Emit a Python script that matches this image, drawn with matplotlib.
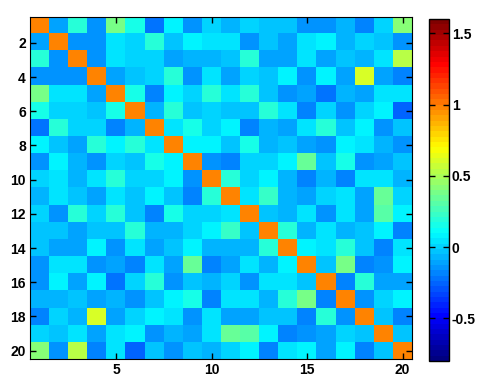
import numpy as np
import matplotlib
matplotlib.use('Agg')
import matplotlib.pyplot as plt
from matplotlib.colors import ListedColormap

# correlation matrix (row i, column j)
corr = np.array([
    [1.00, -0.10, 0.18, -0.15, 0.38, 0.15, -0.22, 0.10, -0.13, 0.00, -0.05, -0.01, -0.04, -0.02, -0.16, -0.16, -0.05, -0.18, 0.00, 0.42],
    [-0.10, 1.00, -0.13, -0.13, 0.06, 0.00, 0.18, -0.02, 0.10, 0.04, 0.04, -0.13, -0.02, -0.11, 0.05, 0.10, -0.05, 0.01, -0.03, -0.16],
    [0.18, -0.13, 1.00, -0.13, 0.06, 0.01, 0.01, -0.10, -0.08, -0.08, -0.02, 0.18, -0.09, -0.09, 0.05, -0.09, -0.02, -0.08, 0.04, 0.52],
    [-0.15, -0.13, -0.13, 1.00, -0.10, -0.02, 0.00, 0.18, -0.13, 0.04, -0.09, -0.01, -0.04, 0.10, -0.16, 0.07, -0.11, 0.62, -0.10, -0.18],
    [0.38, 0.06, 0.06, -0.10, 1.00, 0.15, -0.18, 0.10, 0.00, 0.19, 0.03, 0.19, -0.02, -0.15, -0.09, -0.22, -0.05, -0.10, 0.04, 0.04],
    [0.15, 0.00, 0.01, -0.02, 0.15, 1.00, -0.06, 0.19, -0.04, 0.00, -0.03, -0.02, 0.19, 0.03, -0.19, -0.01, -0.13, -0.01, 0.09, -0.24],
    [-0.22, 0.18, 0.01, 0.00, -0.18, -0.06, 1.00, 0.03, 0.14, 0.00, 0.08, -0.19, -0.06, -0.10, 0.04, 0.20, -0.04, 0.10, -0.13, -0.02],
    [0.10, -0.02, -0.10, 0.18, 0.10, 0.19, 0.03, 1.00, 0.08, 0.08, -0.03, 0.15, -0.06, -0.03, -0.09, -0.13, 0.10, 0.05, -0.06, -0.15],
    [-0.13, 0.10, -0.08, -0.13, 0.00, -0.04, 0.14, 0.08, 1.00, -0.13, -0.18, 0.00, 0.00, 0.10, 0.33, -0.04, 0.15, -0.14, -0.11, -0.02],
    [0.00, 0.04, -0.08, 0.04, 0.19, 0.00, 0.00, 0.08, -0.13, 1.00, 0.19, 0.00, 0.08, -0.05, -0.17, -0.06, -0.17, 0.04, 0.04, -0.05],
    [-0.05, 0.04, -0.02, -0.09, 0.03, -0.03, 0.08, -0.03, -0.18, 0.19, 1.00, 0.06, 0.24, -0.06, -0.11, 0.00, 0.04, -0.09, 0.35, -0.01],
    [-0.01, -0.13, 0.18, -0.01, 0.19, -0.02, -0.19, 0.15, 0.00, 0.00, 0.06, 1.00, -0.04, -0.08, 0.05, -0.15, 0.04, -0.10, 0.29, 0.08],
    [-0.04, -0.02, -0.09, -0.04, -0.02, 0.19, -0.06, -0.06, 0.00, 0.08, 0.24, -0.04, 1.00, 0.19, -0.06, 0.05, -0.05, -0.04, 0.10, -0.17],
    [-0.02, -0.11, -0.09, 0.10, -0.15, 0.03, -0.10, -0.03, 0.10, -0.05, -0.06, -0.08, 0.19, 1.00, 0.10, 0.03, 0.18, -0.04, -0.20, 0.03],
    [-0.16, 0.05, 0.05, -0.16, -0.09, -0.19, 0.04, -0.09, 0.33, -0.17, -0.11, 0.05, -0.06, 0.10, 1.00, -0.03, 0.38, -0.18, -0.13, 0.10],
    [-0.16, 0.10, -0.09, 0.07, -0.22, -0.01, 0.20, -0.13, -0.04, -0.06, 0.00, -0.15, 0.05, 0.03, -0.03, 1.00, -0.18, 0.18, -0.09, -0.09],
    [-0.05, -0.05, -0.02, -0.11, -0.05, -0.13, -0.04, 0.10, 0.15, -0.17, 0.04, 0.04, -0.05, 0.18, 0.38, -0.18, 1.00, -0.13, -0.01, 0.10],
    [-0.18, 0.01, -0.08, 0.62, -0.10, -0.01, 0.10, 0.05, -0.14, 0.04, -0.09, -0.10, -0.04, -0.04, -0.18, 0.18, -0.13, 1.00, -0.03, -0.19],
    [0.00, -0.03, 0.04, -0.10, 0.04, 0.09, -0.13, -0.06, -0.11, 0.04, 0.35, 0.29, 0.10, -0.20, -0.13, -0.09, -0.01, -0.03, 1.00, -0.03],
    [0.42, -0.16, 0.52, -0.18, 0.04, -0.24, -0.02, -0.15, -0.02, -0.05, -0.01, 0.08, -0.17, 0.03, 0.10, -0.09, 0.10, -0.19, -0.03, 1.00],
])

x_ticks = [5, 10, 15, 20]
y_ticks = [2, 4, 6, 8, 10, 12, 14, 16, 18, 20]
cbar_ticks = [-0.5, 0, 0.5, 1, 1.5]
cbar_labels = ['-0.5', '0', '0.5', '1', '1.5']
clim = (-0.8, 1.6)

# MATLAB style jet, 64 levels
s = np.linspace(0, 1, 64)
r = np.clip(np.minimum(4 * s - 1.5, -4 * s + 4.5), 0, 1)
g = np.clip(np.minimum(4 * s - 0.5, -4 * s + 3.5), 0, 1)
b = np.clip(np.minimum(4 * s + 0.5, -4 * s + 2.5), 0, 1)
jet64 = ListedColormap(np.column_stack([r, g, b]))

plt.rcParams['font.family'] = ['Liberation Sans', 'DejaVu Sans']
plt.rcParams['font.size'] = 10
plt.rcParams['font.weight'] = 'bold'

fig = plt.figure(figsize=(4.86, 3.9), dpi=100)
ax = fig.add_axes([0.062, 0.079, 0.786, 0.877])
cax = fig.add_axes([0.883, 0.074, 0.041, 0.877])

n = corr.shape[0]
im = ax.imshow(corr, cmap=jet64, vmin=clim[0], vmax=clim[1],
               extent=(0.5, n + 0.5, n + 0.5, 0.5), aspect='auto',
               interpolation='nearest')

ax.set_xticks(x_ticks)
ax.set_yticks(y_ticks)
ax.tick_params(direction='in', top=True, right=True, length=4, width=1,
               labelsize=10, pad=3)

cb = fig.colorbar(im, cax=cax, ticks=cbar_ticks)
cb.ax.set_yticklabels(cbar_labels)
cax.tick_params(direction='in', left=True, right=True, length=4, width=1,
                labelsize=10, pad=2)
cb.outline.set_linewidth(1)

fig.savefig('out.png', dpi=100)
